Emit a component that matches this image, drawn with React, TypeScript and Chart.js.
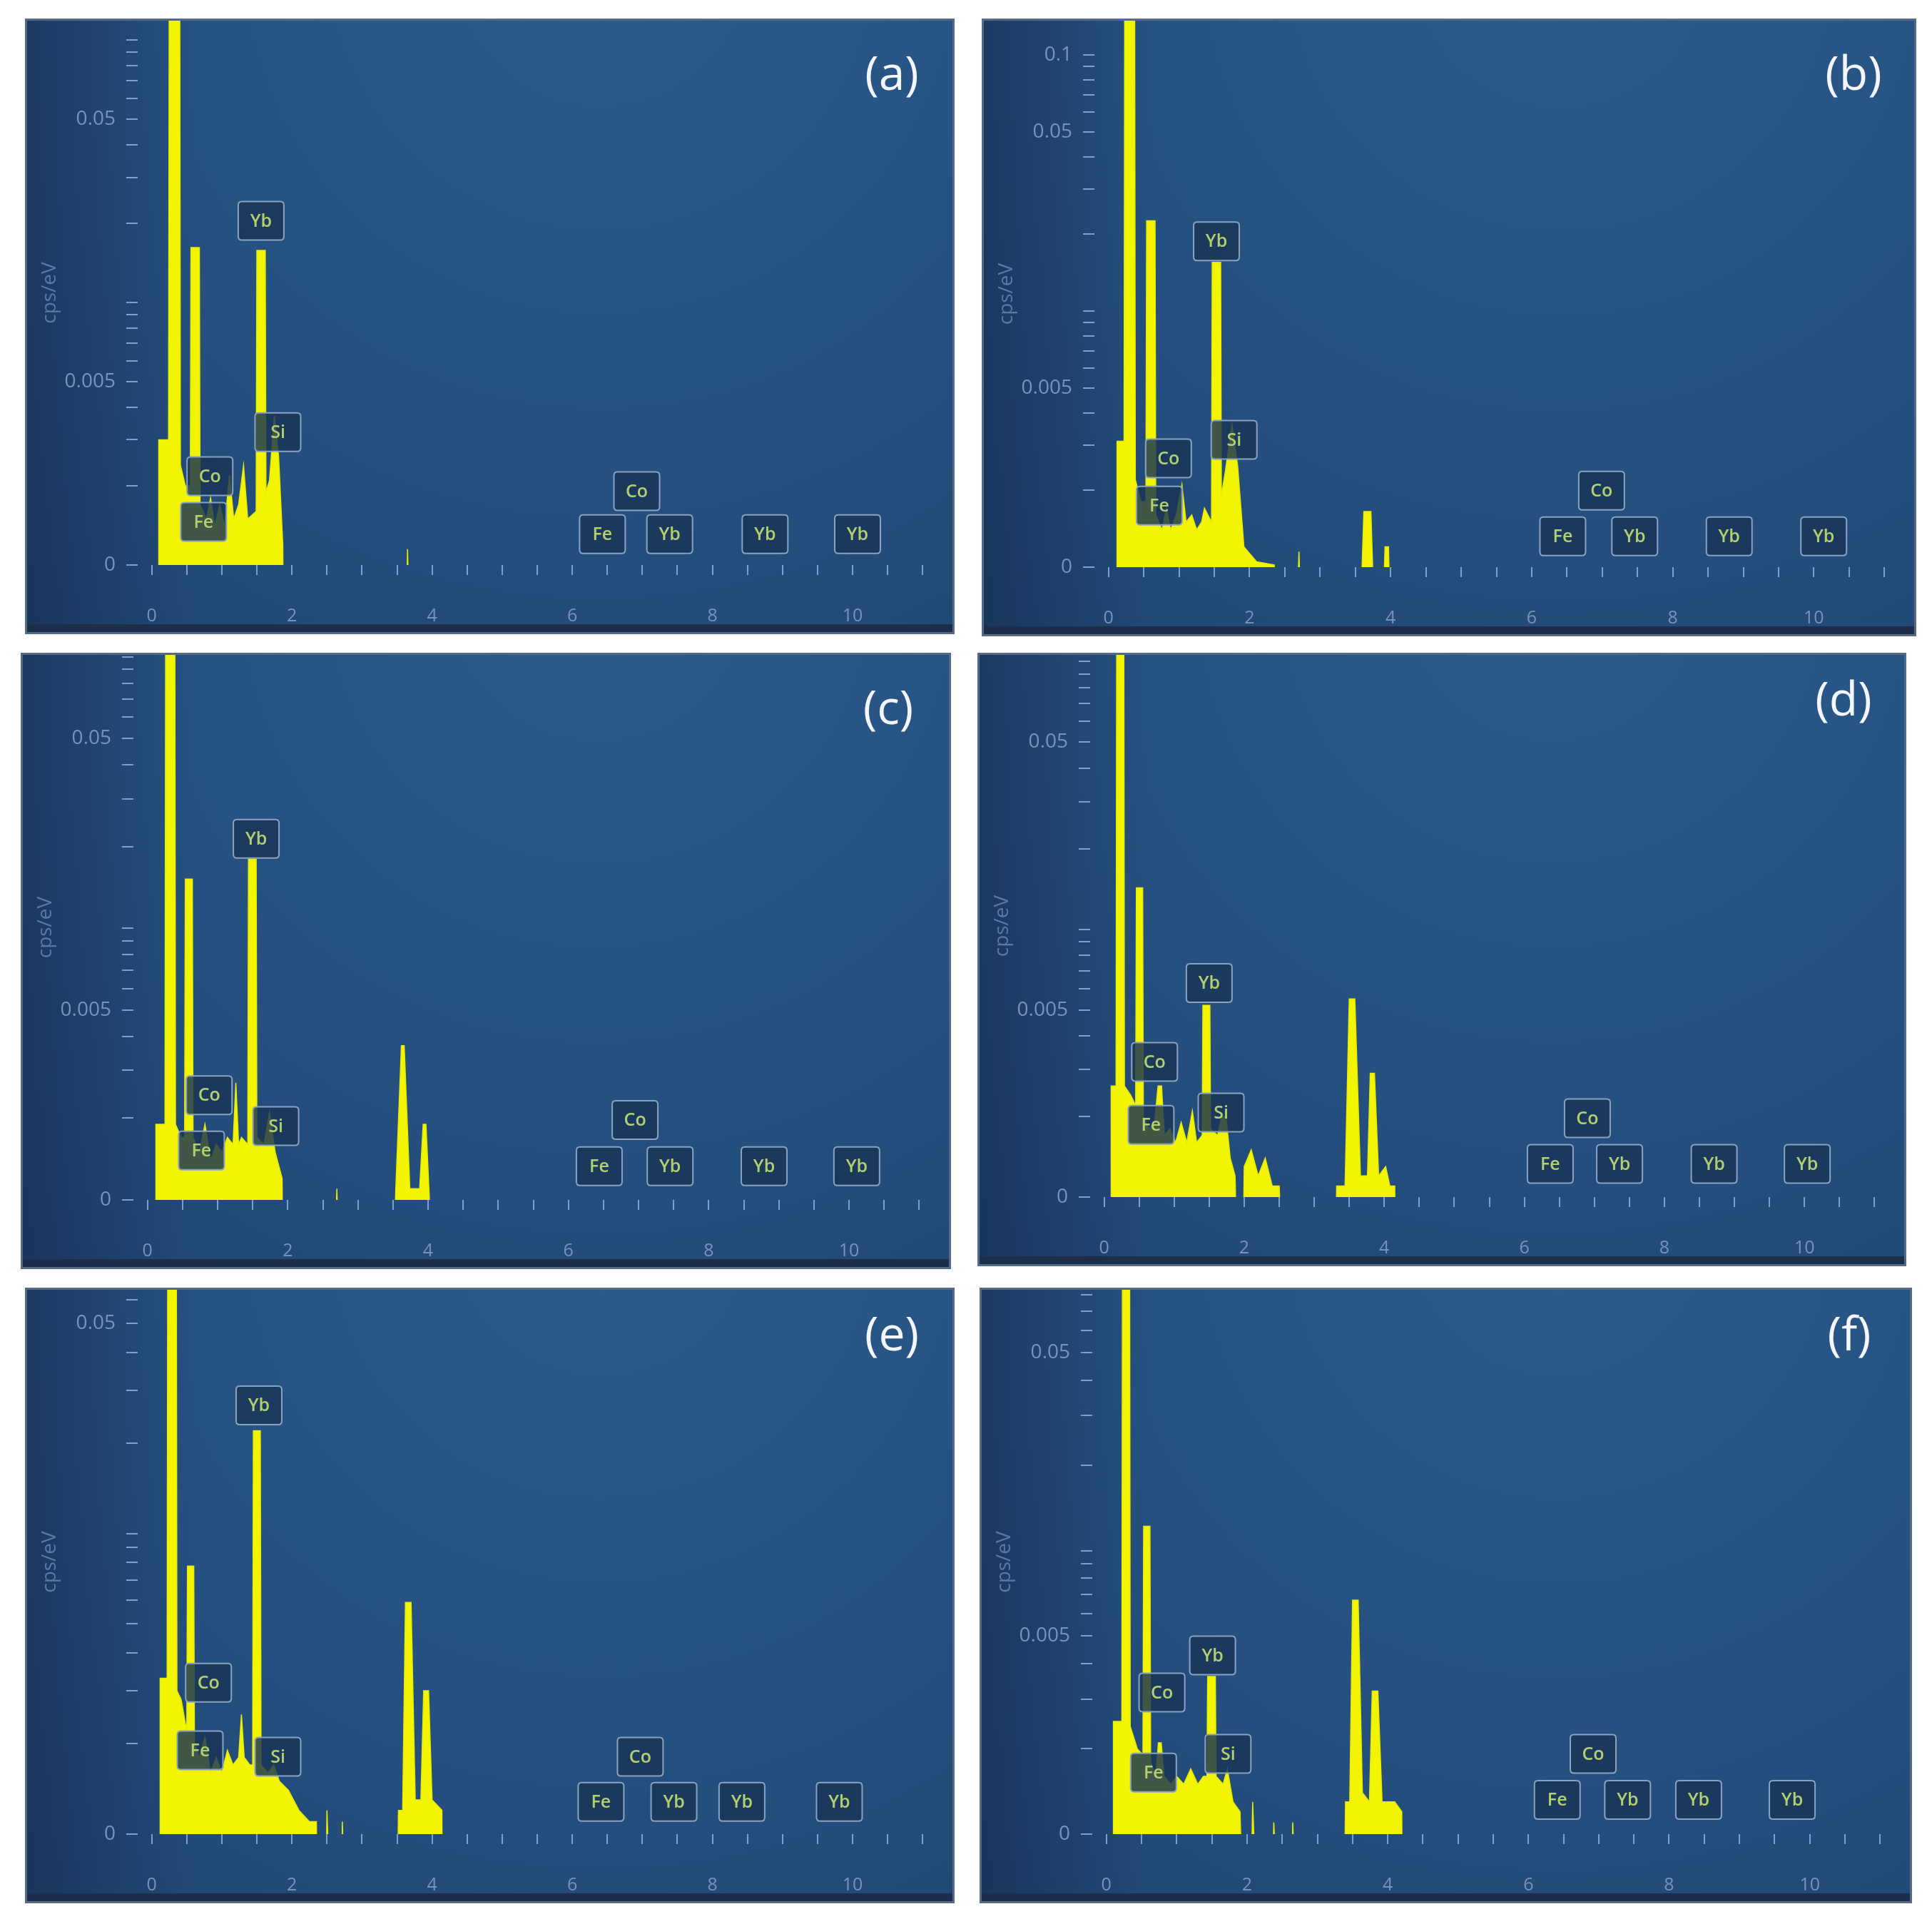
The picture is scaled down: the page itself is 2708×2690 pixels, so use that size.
import React, { useEffect, useRef } from "react";
import { Chart, registerables } from "chart.js";

Chart.register(...registerables);

// ---------------- data ----------------
const panelLetters = ["(a)", "(b)", "(c)", "(d)", "(e)", "(f)"];

// x ticks (keV) and the labelled ones
const xTickValues = [0, 0.5, 1, 1.5, 2, 2.5, 3, 3.5, 4, 4.5, 5, 5.5, 6, 6.5, 7, 7.5, 8, 8.5, 9, 9.5, 10, 10.5, 11];
const xLabeledValues = [0, 2, 4, 6, 8, 10];

// y ticks (cps/eV, log axis; bottom 0.001 shown as "0")
const yTickValues = [
  0.001, 0.002, 0.003, 0.004, 0.005, 0.006, 0.007, 0.008, 0.009,
  0.01, 0.02, 0.03, 0.04, 0.05, 0.06, 0.07, 0.08, 0.09, 0.1,
];
const yLabeledA = [0.05, 0.005, 0.001];
const yLabeledB = [0.1, 0.05, 0.005, 0.001];
const yLabeledC = [0.05, 0.005, 0.001];
const yLabeledD = [0.05, 0.005, 0.001];
const yLabeledE = [0.05, 0.001];
const yLabeledF = [0.05, 0.005, 0.001];
const yMaxima = [0.1186, 0.136, 0.1018, 0.106, 0.0647, 0.0834];

// spectra: [energy keV, cps/eV]
const spectrumA = [
  [0, 0.0005], [0.1, 0.0005], [0.1, 0.003], [0.24, 0.003], [0.25, 0.2], [0.4, 0.2], [0.41, 0.0024],
  [0.48, 0.002], [0.55, 0.002], [0.56, 0.0162], [0.68, 0.0162], [0.69, 0.0017], [0.78, 0.0015],
  [0.84, 0.0018], [0.9, 0.0014], [0.97, 0.0017], [1.04, 0.0014], [1.11, 0.0022], [1.17, 0.0015],
  [1.24, 0.0017], [1.31, 0.0024], [1.37, 0.0015], [1.49, 0.0016], [1.5, 0.0158], [1.62, 0.0158],
  [1.63, 0.0019], [1.68, 0.0021], [1.75, 0.0037], [1.81, 0.0026], [1.87, 0.0012], [1.88, 0.0005],
  [3.62, 0.0005], [3.65, 0.00115], [3.68, 0.0005], [11.2, 0.0005],
];
const spectrumB = [
  [0, 0.0005], [0.12, 0.0005], [0.12, 0.0031], [0.22, 0.0031], [0.23, 0.25], [0.37, 0.25], [0.38, 0.0022],
  [0.46, 0.0018], [0.53, 0.0018], [0.54, 0.0225], [0.66, 0.0225], [0.67, 0.0016], [0.76, 0.0014],
  [0.82, 0.0017], [0.88, 0.0014], [0.96, 0.0016], [1.04, 0.0021], [1.1, 0.0015], [1.18, 0.0016],
  [1.25, 0.0014], [1.32, 0.0015], [1.36, 0.0017], [1.46, 0.0015], [1.47, 0.0155], [1.59, 0.0155],
  [1.6, 0.0019], [1.66, 0.0024], [1.75, 0.0036], [1.83, 0.0025], [1.92, 0.0012], [2.1, 0.00105],
  [2.35, 0.00102], [2.4, 0.0005], [2.66, 0.0005], [2.7, 0.00115], [2.74, 0.0005], [3.56, 0.0005],
  [3.62, 0.00165], [3.72, 0.00165], [3.78, 0.0005], [3.88, 0.0005], [3.92, 0.0012], [3.97, 0.0012],
  [4.0, 0.0005], [11.2, 0.0005],
];
const spectrumC = [
  [0, 0.0005], [0.12, 0.0005], [0.12, 0.0019], [0.25, 0.0019], [0.26, 0.2], [0.39, 0.2], [0.4, 0.0019],
  [0.48, 0.0017], [0.53, 0.0017], [0.54, 0.0152], [0.64, 0.0152], [0.65, 0.0017], [0.74, 0.0015],
  [0.82, 0.0019], [0.9, 0.0014], [0.98, 0.0016], [1.06, 0.0015], [1.14, 0.0017], [1.22, 0.0016],
  [1.26, 0.0027], [1.3, 0.0016], [1.34, 0.0017], [1.43, 0.0016], [1.44, 0.018], [1.55, 0.018],
  [1.56, 0.0017], [1.66, 0.0016], [1.74, 0.0021], [1.82, 0.0015], [1.92, 0.0012], [1.93, 0.0005],
  [2.66, 0.0005], [2.7, 0.0011], [2.74, 0.0005], [3.5, 0.0005], [3.54, 0.0011], [3.62, 0.0037],
  [3.66, 0.0037], [3.74, 0.0011], [3.88, 0.0011], [3.93, 0.0019], [3.97, 0.0019], [4.02, 0.001],
  [4.03, 0.0005], [11.2, 0.0005],
];
const spectrumD = [
  [0, 0.0005], [0.1, 0.0005], [0.1, 0.0026], [0.17, 0.0026], [0.18, 0.25], [0.28, 0.25], [0.29, 0.0026],
  [0.38, 0.0024], [0.45, 0.0022], [0.46, 0.0143], [0.55, 0.0143], [0.56, 0.002], [0.64, 0.0018],
  [0.72, 0.0019], [0.77, 0.0026], [0.82, 0.0026], [0.86, 0.0017], [0.94, 0.0018], [1.02, 0.0016],
  [1.1, 0.0019], [1.18, 0.0016], [1.26, 0.0021], [1.32, 0.0016], [1.4, 0.0017], [1.41, 0.0052],
  [1.51, 0.0052], [1.52, 0.0018], [1.62, 0.0017], [1.68, 0.002], [1.74, 0.002], [1.8, 0.0014],
  [1.87, 0.0012], [1.9, 0.0005], [1.98, 0.0005], [2.0, 0.0013], [2.1, 0.0015], [2.2, 0.0012],
  [2.3, 0.0014], [2.4, 0.0011], [2.5, 0.0011], [2.55, 0.0005], [3.3, 0.0005], [3.32, 0.0011],
  [3.44, 0.0011], [3.5, 0.0055], [3.58, 0.0055], [3.66, 0.0012], [3.76, 0.0012], [3.8, 0.0029],
  [3.86, 0.0029], [3.92, 0.0012], [4.02, 0.0013], [4.08, 0.0011], [4.15, 0.0011], [4.16, 0.0005],
  [11.2, 0.0005],
];
const spectrumE = [
  [0, 0.0005], [0.12, 0.0005], [0.12, 0.0033], [0.22, 0.0033], [0.23, 0.2], [0.35, 0.2], [0.36, 0.003],
  [0.42, 0.0028], [0.5, 0.0022], [0.51, 0.0078], [0.6, 0.0078], [0.61, 0.002], [0.68, 0.0018],
  [0.76, 0.0021], [0.84, 0.0016], [0.92, 0.0018], [1.0, 0.0016], [1.08, 0.0019], [1.16, 0.0017],
  [1.24, 0.0018], [1.28, 0.0025], [1.32, 0.0018], [1.4, 0.0017], [1.44, 0.0017], [1.45, 0.022],
  [1.55, 0.022], [1.56, 0.0017], [1.66, 0.0016], [1.74, 0.0017], [1.82, 0.0015], [1.95, 0.0014],
  [2.1, 0.0012], [2.25, 0.0011], [2.35, 0.0011], [2.36, 0.0005], [2.48, 0.0005], [2.5, 0.0012],
  [2.56, 0.0005], [2.7, 0.0005], [2.72, 0.0011], [2.76, 0.0005], [3.5, 0.0005], [3.52, 0.0012],
  [3.58, 0.0012], [3.62, 0.0059], [3.7, 0.0059], [3.76, 0.0013], [3.84, 0.0013], [3.88, 0.003],
  [3.95, 0.003], [4.0, 0.0013], [4.14, 0.0012], [4.15, 0.0005], [11.2, 0.0005],
];
const spectrumF = [
  [0, 0.0005], [0.1, 0.0005], [0.1, 0.0025], [0.22, 0.0025], [0.23, 0.2], [0.33, 0.2], [0.34, 0.0024],
  [0.44, 0.002], [0.52, 0.0019], [0.53, 0.0122], [0.62, 0.0122], [0.63, 0.0018], [0.7, 0.0016],
  [0.74, 0.0021], [0.78, 0.0021], [0.82, 0.0016], [0.92, 0.0015], [1.0, 0.0016], [1.1, 0.0015],
  [1.2, 0.0017], [1.3, 0.0015], [1.38, 0.0016], [1.43, 0.0016], [1.44, 0.0036], [1.55, 0.0036],
  [1.56, 0.0016], [1.66, 0.0015], [1.72, 0.0017], [1.8, 0.0013], [1.9, 0.0012], [1.95, 0.0005],
  [2.05, 0.0005], [2.08, 0.0013], [2.14, 0.0005], [2.35, 0.0005], [2.38, 0.0011], [2.45, 0.0005],
  [2.62, 0.0005], [2.65, 0.0011], [2.7, 0.0005], [3.38, 0.0005], [3.4, 0.0013], [3.46, 0.0013],
  [3.5, 0.0067], [3.58, 0.0067], [3.64, 0.0014], [3.74, 0.0013], [3.78, 0.0032], [3.86, 0.0032],
  [3.92, 0.0013], [4.1, 0.0013], [4.2, 0.0012], [4.21, 0.0005], [11.2, 0.0005],
];

// element labels: [name, energy keV, level cps/eV]
const elementsA = [
  ["Yb", 1.56, 0.0205], ["Co", 0.83, 0.00218], ["Fe", 0.74, 0.00146], ["Si", 1.8, 0.00321],
  ["Fe", 6.43, 0.00131], ["Co", 6.92, 0.00191], ["Yb", 7.39, 0.00131], ["Yb", 8.75, 0.00131], ["Yb", 10.07, 0.00131],
];
const elementsB = [
  ["Yb", 1.53, 0.0187], ["Co", 0.85, 0.00266], ["Fe", 0.72, 0.00174], ["Si", 1.78, 0.00314],
  ["Fe", 6.44, 0.00132], ["Co", 6.99, 0.00199], ["Yb", 7.46, 0.00132], ["Yb", 8.8, 0.00132], ["Yb", 10.14, 0.00132],
];
const elementsC = [
  ["Yb", 1.55, 0.0214], ["Co", 0.88, 0.00243], ["Fe", 0.77, 0.00152], ["Si", 1.83, 0.00187],
  ["Fe", 6.44, 0.00133], ["Co", 6.95, 0.00197], ["Yb", 7.45, 0.00133], ["Yb", 8.79, 0.00133], ["Yb", 10.11, 0.00133],
];
const elementsD = [
  ["Yb", 1.5, 0.0063], ["Co", 0.72, 0.0032], ["Fe", 0.67, 0.00186], ["Si", 1.67, 0.00207],
  ["Fe", 6.37, 0.00133], ["Co", 6.9, 0.00197], ["Yb", 7.36, 0.00133], ["Yb", 8.71, 0.00133], ["Yb", 10.04, 0.00133],
];
const elementsE = [
  ["Yb", 1.53, 0.0267], ["Co", 0.81, 0.00319], ["Fe", 0.69, 0.0019], ["Si", 1.8, 0.00181],
  ["Fe", 6.41, 0.00128], ["Co", 6.97, 0.00181], ["Yb", 7.45, 0.00128], ["Yb", 8.42, 0.00128], ["Yb", 9.81, 0.00128],
];
const elementsF = [
  ["Yb", 1.51, 0.00427], ["Co", 0.79, 0.00316], ["Fe", 0.67, 0.00165], ["Si", 1.73, 0.00192],
  ["Fe", 6.41, 0.00132], ["Co", 6.92, 0.00192], ["Yb", 7.41, 0.00132], ["Yb", 8.42, 0.00132], ["Yb", 9.75, 0.00132],
];

const spectra = [spectrumA, spectrumB, spectrumC, spectrumD, spectrumE, spectrumF];
const elementSets = [elementsA, elementsB, elementsC, elementsD, elementsE, elementsF];
const yLabeledSets = [yLabeledA, yLabeledB, yLabeledC, yLabeledD, yLabeledE, yLabeledF];

// ---------------- layout ----------------
const panelBoxes = [
  { left: 35, top: 26, w: 1303, h: 863, letterY: 81 },
  { left: 1376, top: 26, w: 1310, h: 866, letterY: 81 },
  { left: 29, top: 915, w: 1304, h: 864, letterY: 81 },
  { left: 1370, top: 915, w: 1302, h: 860, letterY: 69 },
  { left: 35, top: 1805, w: 1303, h: 863, letterY: 69 },
  { left: 1373, top: 1805, w: 1307, h: 863, letterY: 69 },
];

const FONT = '"Open Sans", "DejaVu Sans", sans-serif';
const near = (a: number, b: number) => Math.abs(a - b) < 1e-12;

function SpectrumPanel({ index }: { index: number }) {
  const canvasRef = useRef<HTMLCanvasElement | null>(null);
  const box = panelBoxes[index];

  useEffect(() => {
    const canvas = canvasRef.current;
    if (!canvas) return;
    const spectrum = spectra[index];
    const elements = elementSets[index];
    const labeled = yLabeledSets[index];
    const xAxisHeight = 97;

    const decor = {
      id: "decor",
      beforeDraw(chart: any) {
        const { ctx, width, height } = chart;
        ctx.save();
        const rg = ctx.createRadialGradient(width * 0.62, -height * 0.1, 0, width * 0.62, -height * 0.1, width * 1.0);
        rg.addColorStop(0, "#2c5d8d");
        rg.addColorStop(0.55, "#25507f");
        rg.addColorStop(1, "#1f4574");
        ctx.fillStyle = rg;
        ctx.fillRect(0, 0, width, height);
        const lg = ctx.createLinearGradient(0, 0, 240, 0);
        lg.addColorStop(0, "rgba(14,28,55,0.4)");
        lg.addColorStop(1, "rgba(14,28,55,0)");
        ctx.fillStyle = lg;
        ctx.fillRect(0, 0, 240, height);
        ctx.fillStyle = "#1c2e4a";
        ctx.fillRect(0, height - 14, width, 14);
        ctx.strokeStyle = "#556a86";
        ctx.lineWidth = 3;
        ctx.strokeRect(1.5, 1.5, width - 3, height - 3);
        ctx.restore();
      },
      afterDatasetsDraw(chart: any) {
        const { ctx } = chart;
        const xs = chart.scales.x;
        const ys = chart.scales.y;
        ctx.save();
        elements.forEach((el: any) => {
          const name = el[0] as string;
          const cx = xs.getPixelForValue(el[1]);
          const cy = ys.getPixelForValue(el[2]);
          const w = 64, h = 54, r = 5;
          const x0 = cx - w / 2, y0 = cy - h / 2;
          ctx.beginPath();
          ctx.moveTo(x0 + r, y0);
          ctx.lineTo(x0 + w - r, y0);
          ctx.quadraticCurveTo(x0 + w, y0, x0 + w, y0 + r);
          ctx.lineTo(x0 + w, y0 + h - r);
          ctx.quadraticCurveTo(x0 + w, y0 + h, x0 + w - r, y0 + h);
          ctx.lineTo(x0 + r, y0 + h);
          ctx.quadraticCurveTo(x0, y0 + h, x0, y0 + h - r);
          ctx.lineTo(x0, y0 + r);
          ctx.quadraticCurveTo(x0, y0, x0 + r, y0);
          ctx.closePath();
          ctx.fillStyle = "rgba(26,52,86,0.82)";
          ctx.fill();
          ctx.strokeStyle = "#8aa2c2";
          ctx.lineWidth = 2;
          ctx.stroke();
          ctx.fillStyle = "#b4cf70";
          ctx.font = `600 25px ${FONT}`;
          ctx.textAlign = "center";
          ctx.textBaseline = "middle";
          ctx.fillText(name, cx, cy + 1);
        });
        ctx.restore();
      },
      afterDraw(chart: any) {
        const { ctx, width } = chart;
        ctx.save();
        ctx.fillStyle = "#f3f6fa";
        ctx.font = `66px ${FONT}`;
        ctx.textAlign = "center";
        ctx.textBaseline = "middle";
        ctx.fillText(panelLetters[index], width - 88, box.letterY);
        ctx.restore();
      },
    };

    const chart = new Chart(canvas, {
      type: "line",
      data: {
        datasets: [
          {
            data: spectrum.map((p) => ({ x: p[0], y: p[1] })),
            borderColor: "#e8ec00",
            backgroundColor: "#f2f400",
            borderWidth: 1.5,
            pointRadius: 0,
            tension: 0,
            fill: "start",
          },
        ],
      },
      options: {
        responsive: false,
        animation: false,
        devicePixelRatio: 1,
        layout: { padding: { left: 0, right: 25, top: 3, bottom: 0 } },
        plugins: { legend: { display: false }, tooltip: { enabled: false } },
        scales: {
          x: {
            type: "linear",
            min: -0.2,
            max: 11.2,
            afterBuildTicks: (s: any) => {
              s.ticks = xTickValues.map((v) => ({ value: v }));
            },
            afterFit: (s: any) => {
              s.height = xAxisHeight;
              s.paddingLeft = 0;
              s.paddingRight = 0;
            },
            ticks: {
              autoSkip: false,
              maxRotation: 0,
              padding: 43,
              color: "#7893ba",
              font: { size: 25, family: FONT },
              callback: (v: any) => (xLabeledValues.some((t) => near(t, Number(v))) ? String(v) : ""),
            },
            grid: { drawOnChartArea: false, tickLength: 14, color: "#7c9fd2", lineWidth: 2 },
            border: { display: false },
          },
          y: {
            type: "logarithmic",
            min: 0.001,
            max: yMaxima[index],
            afterBuildTicks: (s: any) => {
              s.ticks = yTickValues.filter((v) => v <= yMaxima[index]).map((v) => ({ value: v }));
            },
            afterFit: (s: any) => {
              s.width = 158;
              s.paddingTop = 0;
              s.paddingBottom = 0;
            },
            ticks: {
              autoSkip: false,
              padding: 15,
              color: "#7893ba",
              font: { size: 28, family: FONT },
              callback: (v: any) => {
                const n = Number(v);
                if (!labeled.some((t) => near(t, n))) return "";
                return near(n, 0.001) ? "0" : String(n);
              },
            },
            grid: { drawOnChartArea: false, tickLength: 16, color: "#7c9fd2", lineWidth: 2 },
            border: { display: false },
            title: {
              display: true,
              text: "cps/eV",
              color: "#5a79a6",
              font: { size: 28, family: FONT },
              padding: { top: 18, bottom: 0 },
            },
          },
        },
      },
      plugins: [decor],
    } as any);

    return () => chart.destroy();
  }, [index]);

  return (
    <canvas
      ref={canvasRef}
      width={box.w}
      height={box.h}
      style={{ position: "absolute", left: box.left, top: box.top, width: box.w, height: box.h, display: "block" }}
    />
  );
}

export default function App() {
  return (
    <div
      style={{
        position: "absolute",
        left: 0,
        top: 0,
        width: 2708,
        height: 2690,
        background: "#ffffff",
        overflow: "hidden",
      }}
    >
      {panelBoxes.map((_, i) => (
        <SpectrumPanel key={i} index={i} />
      ))}
    </div>
  );
}
